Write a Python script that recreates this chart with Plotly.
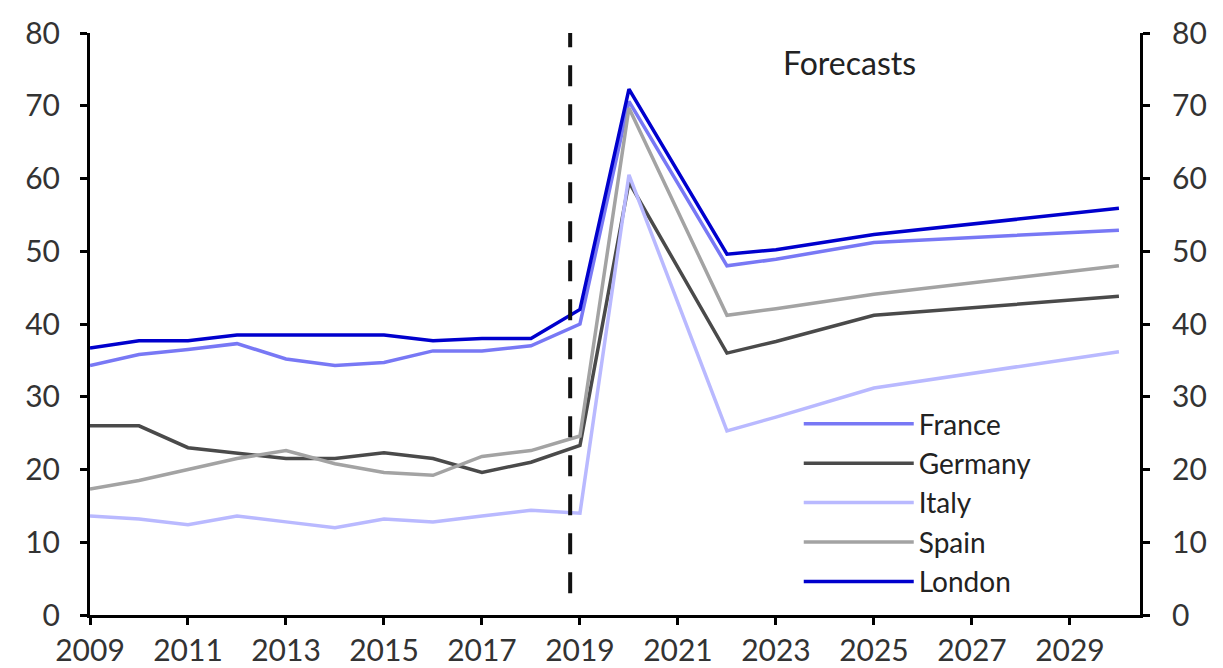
import plotly.graph_objects as go

years = [2009, 2010, 2011, 2012, 2013, 2014, 2015, 2016, 2017, 2018, 2019, 2020, 2022, 2023, 2025, 2030]
france = [34.3, 35.8, 36.5, 37.3, 35.2, 34.3, 34.7, 36.3, 36.3, 37.0, 40.0, 70.6, 48.0, 48.9, 51.2, 52.9]
germany = [26.0, 26.0, 23.0, 22.2, 21.5, 21.5, 22.3, 21.5, 19.6, 21.0, 23.3, 59.5, 36.0, 37.6, 41.2, 43.8]
italy = [13.6, 13.2, 12.4, 13.6, 12.8, 12.0, 13.2, 12.8, 13.6, 14.4, 14.0, 60.5, 25.3, 27.2, 31.2, 36.2]
spain = [17.3, 18.5, 20.0, 21.5, 22.6, 20.8, 19.6, 19.2, 21.8, 22.6, 24.6, 69.7, 41.2, 42.1, 44.1, 48.0]
london = [36.7, 37.7, 37.7, 38.5, 38.5, 38.5, 38.5, 37.7, 38.0, 38.0, 42.0, 72.3, 49.6, 50.2, 52.3, 55.9]

series_names = ["France", "Germany", "Italy", "Spain", "London"]
series_values = [france, germany, italy, spain, london]
series_colors = ["#7878F5", "#4A4A4A", "#B9B9FF", "#A3A3A3", "#0000CD"]

x_tick_vals = [2009, 2011, 2013, 2015, 2017, 2019, 2021, 2023, 2025, 2027, 2029]
y_tick_vals = [0, 10, 20, 30, 40, 50, 60, 70, 80]
forecast_start = 2018.8
forecast_label = "Forecasts"

FONT = "Lato"
fig = go.Figure()
for name, vals, col in zip(series_names, series_values, series_colors):
    fig.add_trace(go.Scatter(x=years, y=vals, name=name, mode="lines",
                             line=dict(color=col, width=3.5)))
# invisible trace to activate the right-hand axis
fig.add_trace(go.Scatter(x=[years[0]], y=[0], yaxis="y2", showlegend=False,
                         mode="markers", marker=dict(opacity=0), hoverinfo="skip"))

fig.add_shape(type="line", x0=forecast_start, x1=forecast_start, y0=3, y1=80,
              xref="x", yref="y", line=dict(color="#111111", width=4, dash="21px,18px"))

fig.add_annotation(x=2024.5, y=76.0, xref="x", yref="y", text=forecast_label,
                   showarrow=False, font=dict(family=FONT, size=32, color="#222222"))

axis_common = dict(showline=True, linecolor="black", linewidth=3, ticks="outside",
                   tickwidth=3, ticklen=7, tickcolor="black", showgrid=False, zeroline=False,
                   ticklabeloverflow="allow", automargin=False,
                   tickfont=dict(family=FONT, size=30, color="#333333"))

fig.update_layout(
    width=1223, height=668,
    margin=dict(l=90, r=83, t=33, b=53),
    paper_bgcolor="white", plot_bgcolor="white",
    showlegend=True,
    legend=dict(x=0.675, y=0.371, xanchor="left", yanchor="top",
                font=dict(family=FONT, size=28, color="#222222"),
                bgcolor="rgba(0,0,0,0)", itemwidth=110, tracegroupgap=0),
    xaxis=dict(range=[2009, 2030.43], tickvals=x_tick_vals, **axis_common),
    yaxis=dict(range=[0, 80], tickvals=y_tick_vals, ticklabelstandoff=14, **axis_common),
    yaxis2=dict(range=[0, 80], tickvals=y_tick_vals, overlaying="y", side="right",
                ticklabelstandoff=16, **axis_common),
)
fig.write_html("out.html", config={"displayModeBar": False},
               post_script="document.body.style.margin='0';document.body.style.overflow='hidden';")
